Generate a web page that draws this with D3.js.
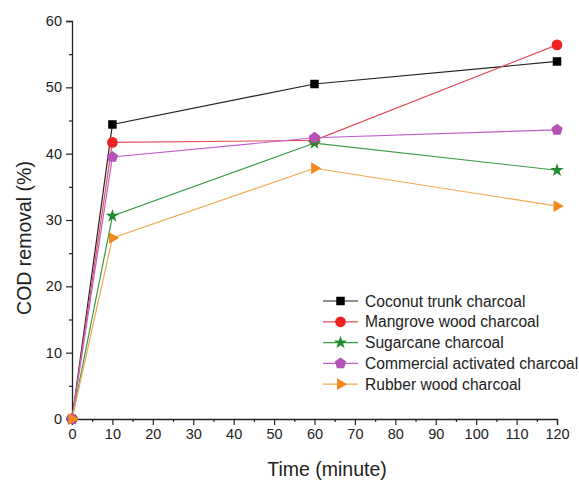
<!DOCTYPE html>
<html>
<head>
<meta charset="utf-8">
<script src="https://cdn.jsdelivr.net/npm/d3@7"></script>
<style>
  body { margin: 0; background: #fff; }
  text { font-family: "Liberation Sans", Arial, sans-serif; }
</style>
</head>
<body>
<svg id="svg" width="579" height="480"></svg>
<script>
// Data
var times = [0, 10, 60, 120];
var seriesNames = ["Coconut trunk charcoal", "Mangrove wood charcoal", "Sugarcane charcoal",
                   "Commercial activated charcoal", "Rubber wood charcoal"];
var coconut = [0, 44.4, 50.5, 53.9];
var mangrove = [0, 41.7, 42.0, 56.4];
var sugarcane = [0, 30.6, 41.6, 37.5];
var commercial = [0, 39.5, 42.4, 43.6];
var rubber = [0, 27.3, 37.8, 32.1];
var xTicks = d3.range(0, 121, 10);
var yTicks = d3.range(0, 61, 10);

var lineColors = ["#222222", "#e0505a", "#3a9a48", "#c060c8", "#f2a850"];
var markColors = ["#000000", "#ee2222", "#1f8a2e", "#b552b5", "#f18a1e"];
var symbols = [d3.symbolSquare, d3.symbolCircle, d3.symbolStar, "pentagon", d3.symbolTriangle];
var allValues = [coconut, mangrove, sugarcane, commercial, rubber];

var svg = d3.select("svg");

var x = d3.scaleLinear().domain([0, 120]).range([72, 557]);
var y = d3.scaleLinear().domain([0, 60]).range([419, 21]);

// Axes with minor ticks
var xAxis = svg.append("g").attr("transform", "translate(0,419)");
xAxis.call(d3.axisBottom(x).tickValues(xTicks).tickSize(6).tickPadding(4).tickFormat(d3.format("d")));
svg.append("g").attr("transform", "translate(0,419)")
    .call(d3.axisBottom(x).tickValues(d3.range(5, 121, 10)).tickSize(3).tickFormat(""))
    .select(".domain").remove();

var yAxis = svg.append("g").attr("transform", "translate(72,0)");
yAxis.call(d3.axisLeft(y).tickValues(yTicks).tickSize(6).tickPadding(4).tickFormat(d3.format("d")));
svg.append("g").attr("transform", "translate(72,0)")
    .call(d3.axisLeft(y).tickValues(d3.range(5, 60, 10)).tickSize(3).tickFormat(""))
    .select(".domain").remove();

svg.selectAll(".domain").attr("stroke", "#222").attr("stroke-width", 1.3);
svg.selectAll(".tick line").attr("stroke", "#222").attr("stroke-width", 1.2);
svg.selectAll(".tick text").attr("font-size", 14.5).attr("fill", "#222")
    .style("font-family", "'Liberation Sans', Arial, sans-serif");

// Axis titles
svg.append("text").attr("x", 327).attr("y", 476).attr("text-anchor", "middle")
    .attr("font-size", 19.5).attr("fill", "#222").text("Time (minute)");
svg.append("text").attr("transform", "translate(31,238) rotate(-90)").attr("text-anchor", "middle")
    .attr("font-size", 19.5).attr("fill", "#222").text("COD removal (%)");

function pentagonPath(r) {
    var pts = [];
    for (var k = 0; k < 5; k++) {
        var a = -Math.PI / 2 + k * 2 * Math.PI / 5;
        pts.push([r * Math.cos(a), r * Math.sin(a)]);
    }
    return "M" + pts.map(function(p) { return p.join(","); }).join("L") + "Z";
}

function markerPath(i, size) {
    if (symbols[i] === "pentagon") return pentagonPath(size);
    return d3.symbol().type(symbols[i]).size(size)();
}

var sizes = [72, 90, 55, 6, 60];

var line = d3.line().x(function(d, j) { return x(times[j]); }).y(function(d) { return y(d); });

allValues.forEach(function(vals, i) {
    svg.append("path").datum(vals)
        .attr("d", line)
        .attr("fill", "none")
        .attr("stroke", lineColors[i])
        .attr("stroke-width", 1.2);
});

allValues.forEach(function(vals, i) {
    svg.selectAll(".m" + i).data(vals).enter().append("path")
        .attr("class", "m" + i)
        .attr("d", markerPath(i, sizes[i]))
        .attr("transform", function(d, j) {
            var rot = symbols[i] === d3.symbolTriangle ? " rotate(90)" : "";
            return "translate(" + x(times[j]) + "," + y(d) + ")" + rot;
        })
        .attr("fill", markColors[i]);
});

// Legend
var legend = svg.append("g").attr("transform", "translate(323,301)");
seriesNames.forEach(function(name, i) {
    var g = legend.append("g").attr("transform", "translate(0," + (i * 20.8) + ")");
    g.append("line").attr("x1", 0).attr("x2", 35).attr("y1", 0).attr("y2", 0)
        .attr("stroke", lineColors[i]).attr("stroke-width", 1.2);
    var rot = symbols[i] === d3.symbolTriangle ? " rotate(90)" : "";
    g.append("path").attr("d", markerPath(i, sizes[i]))
        .attr("transform", "translate(17.5,0)" + rot)
        .attr("fill", markColors[i]);
    g.append("text").attr("x", 42).attr("y", 5.5).attr("font-size", 15.6)
        .attr("fill", "#222").text(name);
});
</script>
</body>
</html>
